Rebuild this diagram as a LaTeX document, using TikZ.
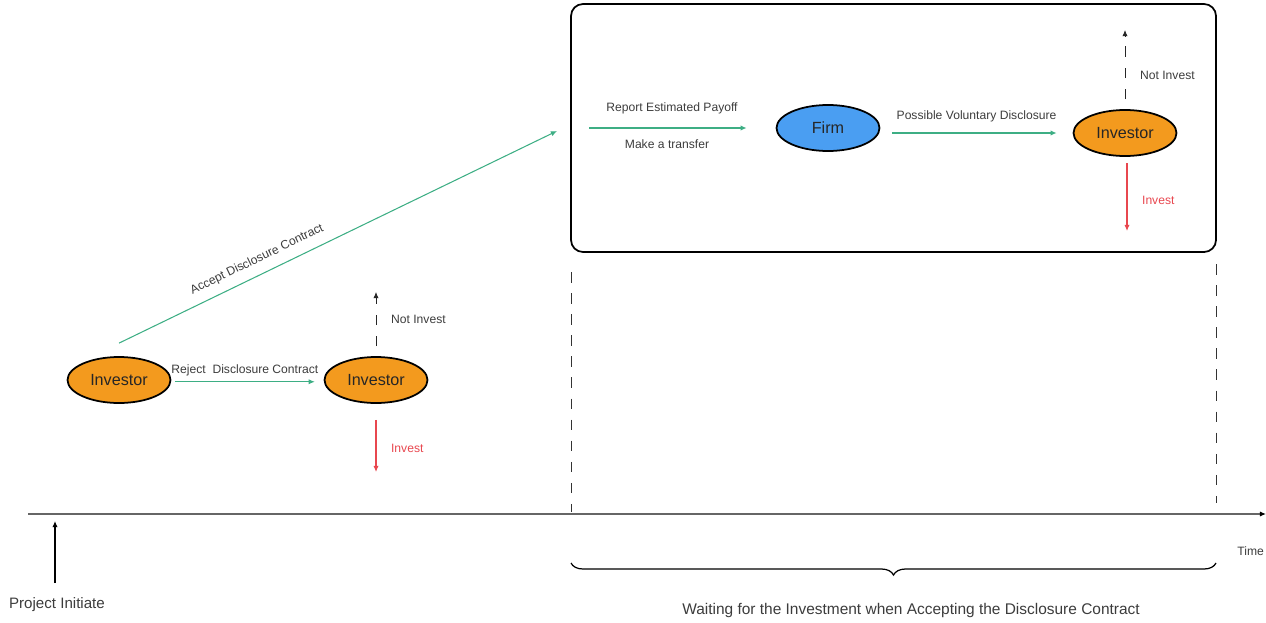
\documentclass[tikz,border=0pt]{standalone}
\usepackage{fontspec}
\setmainfont{Liberation Sans}
\usetikzlibrary{arrows.meta}
\usetikzlibrary{shapes.geometric}
\usetikzlibrary{decorations.pathreplacing}
\definecolor{DarkOrange}{HTML}{F39A1E}
\definecolor{LightBlue}{HTML}{4A9EF2}
\definecolor{MintGreen}{HTML}{3DAE84}
\definecolor{LightRed}{HTML}{E8474F}
\definecolor{TextGray}{HTML}{3C3C3C}
\tikzset{
  agent/.style={draw,ellipse,line width=1pt,minimum width=2.06cm,minimum height=0.92cm,
    inner sep=0pt,text=black!85,font=\fontsize{9.2}{10}\selectfont},
  investor/.style={agent,fill=DarkOrange},
  firm/.style={agent,fill=LightBlue},
  lbl/.style={text=TextGray,font=\fontsize{6.9}{8}\selectfont,inner sep=1pt},
  biglbl/.style={text=TextGray,font=\fontsize{8.6}{10}\selectfont,inner sep=1pt},
  flow/.style={draw=MintGreen,line width=0.6pt,-{Latex[length=3.5pt,width=3pt]}},
  invest/.style={draw=LightRed,line width=0.6pt,-{Latex[length=3.5pt,width=3pt]}},
  noinvest/.style={draw=black!85,line width=0.45pt,dash pattern=on 6pt off 6pt,-{Latex[length=3.5pt,width=3pt]}},
  timeline/.style={draw=black!80,line width=0.45pt,dash pattern=on 6pt off 6pt}
}
\begin{document}
\begin{tikzpicture}[x=0.02cm,y=-0.02cm]
  \useasboundingbox (0,0) rectangle (1266,622);

  % stage one: accept or reject
  \node[investor] (InvStart)  at (119,380) {Investor};
  \node[investor] (InvReject) at (376,380) {Investor};
  \coordinate (AcceptEnd) at (557,131);
  \coordinate (NotInvA) at (376,292);
  \coordinate (InvestA) at (376,472);

  \draw[flow] ([xshift=2pt,yshift=-1pt]InvStart.east) -- node[lbl,above=2pt] (RejectLbl) {Reject\ \ Disclosure Contract} ([xshift=-5pt,yshift=-1pt]InvReject.west);
  \draw[flow] ([yshift=0.26cm]InvStart.north) -- node[lbl,pos=0.33,sloped,above=4pt] (AcceptLbl) {Accept Disclosure Contract} (AcceptEnd);
  \draw[noinvest,shorten <=0.2cm] (InvReject.north) -- (NotInvA);
  \draw[invest,shorten <=0.32cm] (InvReject.south) -- (InvestA);
  \node[lbl,anchor=west] (NotInvLblA) at (389,319) {Not Invest};
  \node[lbl,anchor=west,text=LightRed] (InvestLblA) at (389,448) {Invest};

  % stage two: inside the contract
  \draw[line width=1pt,rounded corners=0.24cm] (571,4) rectangle (1216,252);
  \node[firm] (Firm) at (828,128) {Firm};
  \node[investor] (InvAccept) at (1125,133) {Investor};
  \coordinate (ReportStart) at (589,128);
  \coordinate (NotInvB) at (1125,30);
  \coordinate (InvestB) at (1127,231);

  \draw[flow,shorten >=0.58cm] (ReportStart) -- (Firm.west);
  \node[lbl] (ReportLbl)   at (672,108) {Report Estimated Payoff};
  \node[lbl] (TransferLbl) at (667,144) {Make a transfer};
  \draw[flow,shorten <=0.24cm,shorten >=0.32cm] (Firm.east |- InvAccept) -- node[lbl,above=5pt] (DisclLbl) {Possible Voluntary Disclosure} (InvAccept.west);
  \draw[noinvest,shorten <=0.2cm] (InvAccept.north) -- (NotInvB);
  \draw[invest] (1127,163) -- (InvestB);
  \node[lbl,anchor=west] (NotInvLblB) at (1138,75) {Not Invest};
  \node[lbl,anchor=west,text=LightRed] (InvestLblB) at (1140,200) {Invest};

  % time axis
  \coordinate (TimeStart) at (28,514);
  \coordinate (TimeEnd) at (1266,514);
  \coordinate (InitTail) at (55,583);
  \draw[timeline] (571,272) -- (571,512);
  \draw[timeline] (1216,264) -- (1216,503);
  \draw[draw=black!60,line width=1pt,-{Latex[length=3.5pt,width=3pt,black]}] (TimeStart) -- (TimeEnd);
  \node[lbl,anchor=east] (TimeLbl) at (1266,551) {Time};
  \draw[line width=0.6pt,-{Latex[length=3.5pt,width=3pt]}] (InitTail) -- (55,521);
  \node[biglbl,anchor=west] (InitLbl) at (7,605) {Project Initiate};
  \draw[line width=0.7pt,decorate,decoration={brace,mirror,amplitude=0.24cm}] (571,563) -- (1216,563);
  \node[biglbl,font=\fontsize{8.8}{10}\selectfont] (WaitLbl) at (911,610) {Waiting for the Investment when Accepting the Disclosure Contract};
\end{tikzpicture}
\end{document}
